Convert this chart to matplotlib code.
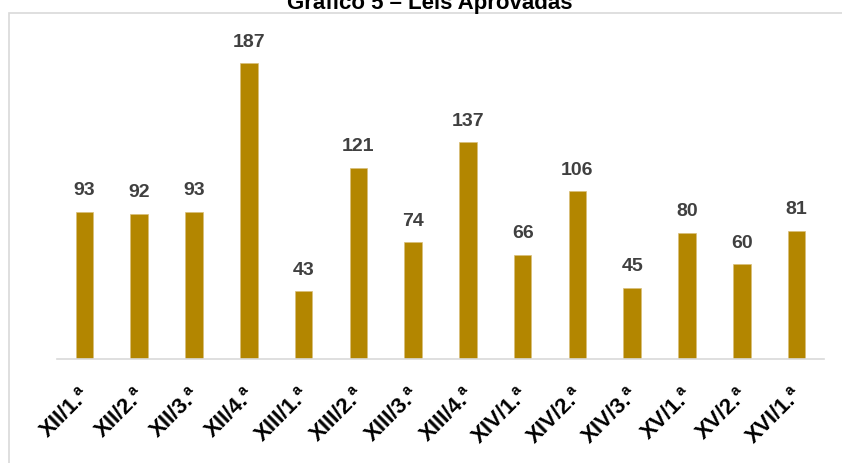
import matplotlib
matplotlib.use("Agg")
import matplotlib.pyplot as plt
from matplotlib.patches import Rectangle
from matplotlib.transforms import ScaledTranslation

categories = ["XII/1.ª", "XII/2.ª", "XII/3.ª", "XII/4.ª", "XIII/1.ª", "XIII/2.ª",
              "XIII/3.ª", "XIII/4.ª", "XIV/1.ª", "XIV/2.ª", "XIV/3.ª", "XV/1.ª",
              "XV/2.ª", "XVI/1.ª"]
values = [93, 92, 93, 187, 43, 121, 74, 137, 66, 106, 45, 80, 60, 81]
title = "Gráfico 5 – Leis Aprovadas"

plt.rcParams['font.family'] = ['Liberation Sans', 'DejaVu Sans']

W, H = 842, 463
fig = plt.figure(figsize=(W / 100, H / 100), dpi=100)

# chart area border
fig.patches.append(Rectangle((9 / W, -0.1), 1.2, (H - 13) / H + 0.1,
                             transform=fig.transFigure, fill=False,
                             edgecolor='#D9D9D9', linewidth=1.2))

ax_left, ax_right = 57 / W, 824 / W
ax_bottom = (H - 359) / H
ymax = 200
px_per_unit = 1.581
ax_top_px = 359 - ymax * px_per_unit
ax = fig.add_axes([ax_left, ax_bottom, ax_right - ax_left, (359 - ax_top_px) / H])

x = range(len(categories))
bars = ax.bar(x, values, width=0.32, color='#B38600', edgecolor='#D9BE7A', linewidth=0.5, zorder=2)
ax.set_xlim(-0.5, len(categories) - 0.5)
ax.set_ylim(0, ymax)

for xi, v in zip(x, values):
    ax.annotate(str(v), (xi, v), xytext=(0, 9), textcoords='offset points',
                ha='center', va='bottom', fontsize=14, fontweight='bold', color='#404040')

ax.set_xticks(list(x))
ax.set_xticklabels(categories, rotation=45, ha='right', rotation_mode='anchor',
                   fontsize=16, fontweight='bold', color='black')
ax.tick_params(axis='x', length=0, pad=18)
shift = ScaledTranslation(-5 / 100, 0, fig.dpi_scale_trans)
for lab in ax.get_xticklabels():
    lab.set_transform(lab.get_transform() + shift)
ax.set_yticks([])
for s in ['top', 'right', 'left']:
    ax.spines[s].set_visible(False)
ax.spines['bottom'].set_color('#D9D9D9')
ax.spines['bottom'].set_linewidth(1.2)

fig.text(430 / W, (H - 9) / H, title, ha='center', va='baseline',
         fontsize=16, fontweight='bold', color='black')

fig.savefig("out.png", dpi=100, facecolor='white')
